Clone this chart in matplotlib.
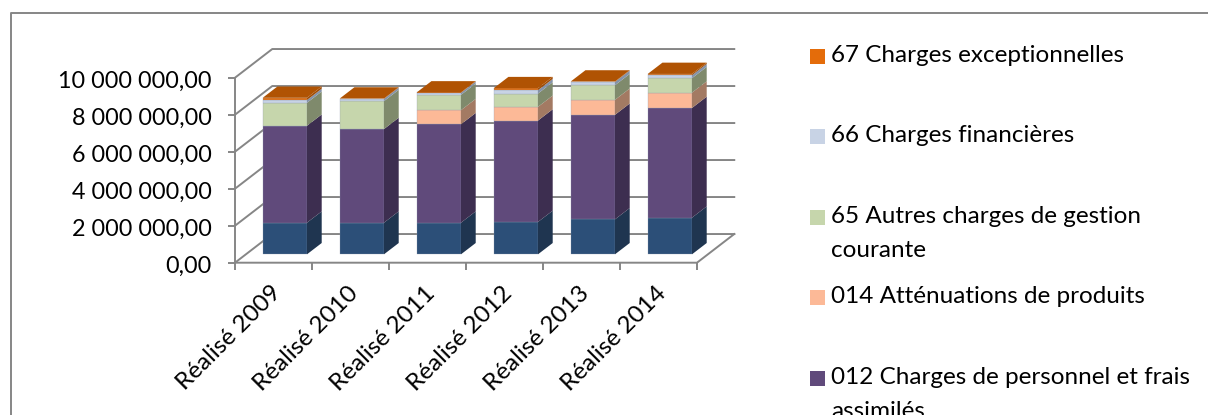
import matplotlib
matplotlib.use('Agg')
import matplotlib.pyplot as plt
from matplotlib.patches import Polygon, Rectangle
from matplotlib.transforms import ScaledTranslation
import numpy as np

plt.rcParams['font.family'] = ['Lato', 'DejaVu Sans']

# categories and values
years = ['Réalisé 2009', 'Réalisé 2010', 'Réalisé 2011', 'Réalisé 2012', 'Réalisé 2013', 'Réalisé 2014']
c011 = [1710000, 1710000, 1710000, 1750000, 1890000, 1980000]
c012 = [5240000, 5060000, 5320000, 5480000, 5650000, 5930000]
c014 = [0, 0, 760000, 740000, 810000, 830000]
c65 = [1240000, 1510000, 830000, 720000, 790000, 780000]
c66 = [150000, 120000, 110000, 180000, 180000, 160000]
c67 = [120000, 20000, 20000, 110000, 20000, 70000]
y_ticks = [0, 2000000, 4000000, 6000000, 8000000, 10000000]
y_labels = ['0,00', '2 000 000,00', '4 000 000,00', '6 000 000,00', '8 000 000,00', '10 000 000,00']

series = [c011, c012, c014, c65, c66, c67]
front_colors = ['#2C4F78', '#604A7B', '#FCB997', '#C6D6AC', '#C8D3E5', '#E46C0A']
side_colors = ['#1F3550', '#3D2E50', '#A37A63', '#7F8A6C', '#8593A8', '#A04C06']
top_color = '#B05303'
grid_color = '#868686'

legend_names = ['67 Charges exceptionnelles', '66 Charges financières',
                '65 Autres charges de gestion\ncourante', '014 Atténuations de produits',
                '012 Charges de personnel et frais\nassimilés']
legend_colors = ['#E46C0A', '#C8D3E5', '#C6D6AC', '#FCB997', '#604A7B']

W, H = 1208, 415
fig = plt.figure(figsize=(W / 100, H / 100), dpi=100)

# background layer in pixels, for the frame and the legend
bg = fig.add_axes([0, 0, 1, 1])
bg.set_xlim(0, W)
bg.set_ylim(H, 0)
bg.axis('off')
bg.plot([10.5, 10.5, W], [H, 13.5, 13.5], color=grid_color, lw=1.4)
legend_y = [49, 129, 210, 290, 371]
for name, col, yy in zip(legend_names, legend_colors, legend_y):
    bg.add_patch(Rectangle((810, yy), 15, 15, color=col, lw=0))
    bg.text(831, yy - 4, name, fontsize=17.5, color='black', va='top', linespacing=1.74, clip_on=False)

# the front plane of the 3d box is the real axes
ax = fig.add_axes([235 / W, (H - 262.7) / H, 462 / W, 185 / H])
ax.patch.set_alpha(0)
ax.set_xlim(0, 6)
ax.set_ylim(0, 10000000)
for s in ax.spines.values():
    s.set_visible(False)

wall_dx, wall_dy = 0.484, 1550000
floor_dx, floor_dy = 0.143, 454000
bar_dx, bar_dy = 0.191, 610000
bar_w = 0.575
x = np.arange(len(years))
xc = x + 0.6475

# walls and floor
for v in y_ticks:
    ax.plot([0, wall_dx, 6 + wall_dx], [v, v + wall_dy, v + wall_dy], color=grid_color, lw=1.4, clip_on=False, zorder=1)
ax.plot([0, 0], [0, 10000000], color=grid_color, lw=1.4, clip_on=False, zorder=1)
ax.plot([0, 6, 6 + wall_dx], [0, 0, wall_dy], color=grid_color, lw=1.4, clip_on=False, zorder=1)

# stacked bars, front with bar(), side and top as polygons
bottom = np.full(len(years), float(floor_dy))
for vals, fc, sc in zip(series, front_colors, side_colors):
    vals = np.array(vals, dtype=float)
    ax.bar(xc, vals, bar_w, bottom=bottom, color=fc, edgecolor='#8E9BB0', linewidth=0.2, clip_on=False, zorder=3)
    for xi, b, v in zip(xc, bottom, vals):
        if v == 0:
            continue
        r = xi + bar_w / 2
        ax.add_patch(Polygon([(r, b), (r + bar_dx, b + bar_dy), (r + bar_dx, b + v + bar_dy), (r, b + v)],
                             closed=True, facecolor=sc, edgecolor='none', clip_on=False, zorder=3))
    bottom = bottom + vals
for xi, b in zip(xc, bottom):
    l, r = xi - bar_w / 2, xi + bar_w / 2
    ax.add_patch(Polygon([(l, b), (r, b), (r + bar_dx, b + bar_dy), (l + bar_dx, b + bar_dy)],
                         closed=True, facecolor=top_color, edgecolor='none', clip_on=False, zorder=4))

# axis ticks and labels
ax.set_yticks(y_ticks)
ax.set_yticklabels(y_labels, fontsize=16.8, va='center_baseline')
ax.tick_params(axis='y', length=5, width=1.4, color=grid_color, pad=12)
# push the y labels down a little
nudge = ScaledTranslation(0, -2 / 100, fig.dpi_scale_trans)
for lab in ax.get_yticklabels():
    lab.set_transform(lab.get_transform() + nudge)
ax.set_xticks(x + 0.46)
ax.set_xticklabels(years, fontsize=17.5, rotation=45, ha='right', rotation_mode='anchor')
ax.set_xticks(np.arange(0, 7), minor=True)
ax.tick_params(axis='x', which='major', length=0, pad=14)
ax.tick_params(axis='x', which='minor', length=5, width=1.4, color=grid_color)

fig.savefig('out.png', dpi=100)
